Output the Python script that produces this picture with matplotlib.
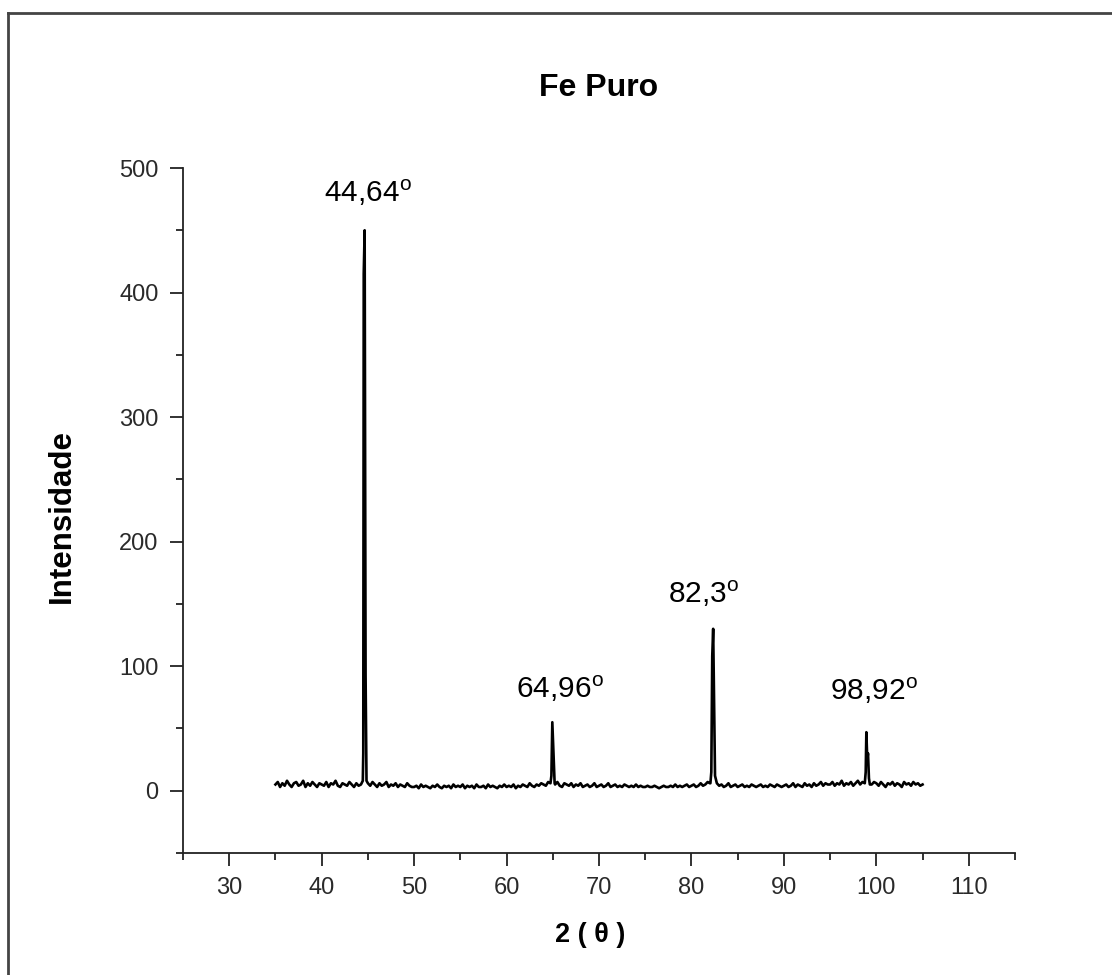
import numpy as np
import matplotlib
matplotlib.use("Agg")
import matplotlib.pyplot as plt
from matplotlib.lines import Line2D
from matplotlib.ticker import MultipleLocator

plt.rcParams['font.family'] = ['Liberation Sans', 'DejaVu Sans']
plt.rcParams['mathtext.fontset'] = 'custom'
plt.rcParams['mathtext.rm'] = 'Liberation Sans'
plt.rcParams['mathtext.it'] = 'Liberation Sans'

# background counts, 35.00 .. 105.00 deg every 0.25 deg
bg_start = 35.0
bg_step = 0.25
background = [
    5, 7, 3, 6, 4, 8, 5, 3, 6, 7, 4, 5, 8, 3, 6, 4, 7, 5, 3, 6,
    5, 4, 7, 3, 6, 5, 8, 4, 3, 6, 5, 4, 7, 5, 3, 6, 4, 5, 7, 6,
    6, 4, 7, 5, 3, 6, 4, 5, 7, 3, 5, 4, 6, 3, 5, 4, 3, 6, 4, 3,
    3, 4, 2, 5, 3, 4, 3, 2, 4, 3, 5, 3, 2, 4, 3, 4, 2, 5, 3, 4,
    3, 5, 2, 4, 3, 4, 2, 5, 3, 3, 4, 2, 5, 3, 4, 3, 2, 4, 3, 5,
    3, 4, 3, 5, 2, 4, 3, 5, 4, 3, 6, 4, 3, 5, 4, 6, 5, 4, 7, 8,
    6, 5, 7, 4, 3, 6, 5, 4, 6, 3, 5, 4, 6, 3, 4, 5, 3, 4, 6, 3,
    4, 5, 3, 4, 6, 3, 4, 5, 3, 4, 3, 5, 4, 3, 4, 3, 5, 3, 4, 3,
    3, 4, 3, 3, 4, 3, 2, 3, 4, 3, 3, 4, 3, 5, 3, 4, 3, 4, 5, 3,
    4, 5, 3, 4, 6, 4, 5, 7, 6, 8, 5, 6, 4, 5, 3, 4, 6, 3, 4, 5,
    3, 4, 5, 3, 4, 3, 5, 4, 3, 4, 5, 3, 4, 3, 5, 4, 3, 5, 4, 3,
    4, 5, 3, 4, 6, 3, 5, 4, 3, 6, 4, 5, 3, 6, 4, 5, 7, 4, 6, 5,
    5, 7, 4, 6, 5, 8, 4, 6, 5, 7, 4, 6, 8, 5, 7, 6, 4, 6, 5, 7,
    6, 4, 7, 5, 3, 6, 5, 7, 4, 6, 5, 3, 7, 5, 6, 4, 7, 5, 6, 4,
    5,
]

# peak profiles
peak1_x = [44.45, 44.5, 44.55, 44.65, 44.75, 44.85]
peak1_y = [8, 30, 415, 450, 93, 8]
peak2_x = [64.75, 64.85, 64.95, 65.05, 65.12, 65.2]
peak2_y = [6, 12, 55, 35, 20, 6]
peak3_x = [82.05, 82.15, 82.25, 82.35, 82.45, 82.55]
peak3_y = [6, 15, 108, 130, 70, 12]
peak4_x = [98.75, 98.85, 98.92, 99.02, 99.1, 99.2, 99.3]
peak4_y = [6, 15, 47, 25, 30, 10, 5]

peak_labels = ["44,64", "64,96", "82,3", "98,92"]
label_x = [45.0, 65.8, 81.3, 99.7]
label_y = [480, 82, 158, 80]

bg_x = bg_start + bg_step * np.arange(len(background))
bg_y = np.array(background, dtype=float)
px = np.array(peak1_x + peak2_x + peak3_x + peak4_x)
py = np.array(peak1_y + peak2_y + peak3_y + peak4_y, dtype=float)
keep = np.ones(len(bg_x), dtype=bool)
for xs in (peak1_x, peak2_x, peak3_x, peak4_x):
    keep &= ~((bg_x >= xs[0] - 0.01) & (bg_x <= xs[-1] + 0.01))
x = np.concatenate([bg_x[keep], px])
y = np.concatenate([bg_y[keep], py])
order = np.argsort(x)
x, y = x[order], y[order]

fig = plt.figure(figsize=(11.12, 9.75), dpi=100)
ax = fig.add_axes([183 / 1112, 1 - 853 / 975, (1015 - 183) / 1112, (853 - 168) / 975])

ax.plot(x, y, color='black', lw=1.9)

ax.set_xlim(25, 115)
ax.set_ylim(-50, 500)
ax.xaxis.set_major_locator(MultipleLocator(10))
ax.xaxis.set_minor_locator(MultipleLocator(5))
ax.yaxis.set_major_locator(MultipleLocator(100))
ax.yaxis.set_minor_locator(MultipleLocator(50))
ax.set_xticks([30, 40, 50, 60, 70, 80, 90, 100, 110])
ax.spines['top'].set_visible(False)
ax.spines['right'].set_visible(False)
for s in ('left', 'bottom'):
    ax.spines[s].set_linewidth(1.3)
    ax.spines[s].set_color('#222222')
ax.tick_params(which='major', direction='out', length=9.5, width=1.3, labelsize=17,
               pad=8, colors='#222222')
ax.tick_params(which='minor', direction='out', length=5, width=1.3, colors='#222222')
ax.tick_params(labelcolor='#2a2a2a')

for lbl, lx, ly in zip(peak_labels, label_x, label_y):
    ax.text(lx, ly, lbl + r"$^{\mathrm{o}}$", fontsize=21.5, ha='center', va='center',
            color='black')

fig.text(599 / 1112, 1 - 88 / 975, "Fe Puro", fontsize=23, fontweight='bold',
         ha='center', va='center')
fig.text(62 / 1112, 1 - 516 / 975, "Intensidade", fontsize=22.5, fontweight='bold',
         rotation=90, ha='center', va='center')
fig.text(590 / 1112, 1 - 935 / 975, "2 ( θ )", fontsize=19.5, fontweight='bold',
         ha='center', va='center')

# frame of the original screenshot (top and left edges only)
fig.add_artist(Line2D([8 / 1112, 1], [1 - 13 / 975] * 2, transform=fig.transFigure,
                      color='#444444', lw=2))
fig.add_artist(Line2D([8 / 1112] * 2, [0, 1 - 13 / 975], transform=fig.transFigure,
                      color='#444444', lw=2))

fig.savefig("out.png", dpi=100)
